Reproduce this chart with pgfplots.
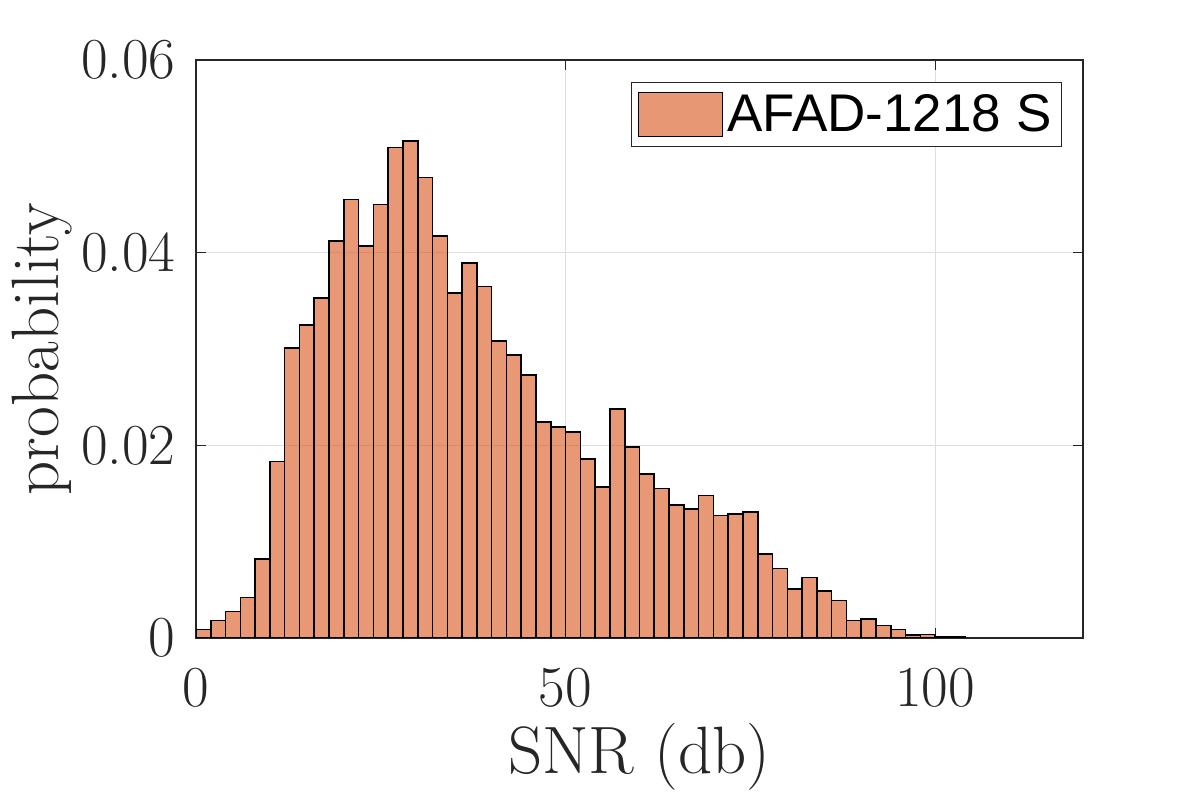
\documentclass[border=0pt]{standalone}
\usepackage{pgfplots}
\pgfplotsset{compat=1.18}
\usepackage{fontspec}
\newfontfamily\legfont{Liberation Sans}
\definecolor{txt}{HTML}{262626}
\definecolor{matred}{RGB}{217,83,25}

\begin{document}
\begin{tikzpicture}
\begin{axis}[
  scale only axis, width=443.5pt, height=289pt,
  at={(0,0)}, anchor=south west,
  xmin=0, xmax=120, ymin=0, ymax=0.06,
  xtick={0,50,100}, ytick={0,0.02,0.04,0.06},
  xticklabels={0,50,100},
  yticklabels={0,0.02,0.04,0.06},
  scaled y ticks=false,
  tick align=inside, major tick length=5pt,
  grid=major, major grid style={color=black!13, line width=0.5pt},
  axis line style={color=txt, line width=0.6pt},
  tick style={color=txt, line width=0.6pt},
  ticklabel style={font=\fontsize{29}{34}\selectfont, text=txt},
  yticklabel style={inner sep=0pt, xshift=-10pt},
  xticklabel style={inner sep=0pt, yshift=-15pt},
  label style={font=\fontsize{33.5}{38}\selectfont, text=txt},
  xlabel={SNR (db)}, ylabel={probability},
  xlabel style={at={(axis description cs:0.5,-0.206)}, anchor=center},
  ylabel style={at={(axis description cs:-0.1736,0.5)}, anchor=center},
  legend style={at={(rel axis cs:1,1)}, anchor=north east, xshift=-10.5pt, yshift=-11pt,
    draw=txt, line width=0.5pt, font=\legfont\fontsize{26.5}{30}\selectfont,
    inner xsep=3pt, inner ysep=4pt},
  legend image code/.code={\draw[#1] (0pt,-11pt) rectangle (42pt,11pt);},
]
\addplot[ybar interval, fill=matred, fill opacity=0.6, draw=black, line width=0.8pt]
coordinates {
(0,0.00087) (2,0.00183) (4,0.00277) (6,0.00419) (8,0.0082)
(10,0.01834) (12,0.0301) (14,0.0325) (16,0.0353) (18,0.0412)
(20,0.0455) (22,0.0407) (24,0.0450) (26,0.0509) (28,0.0516)
(30,0.0478) (32,0.0417) (34,0.0358) (36,0.0389) (38,0.0365)
(40,0.0308) (42,0.0294) (44,0.0273) (46,0.0224) (48,0.0219)
(50,0.0214) (52,0.0186) (54,0.0157) (56,0.0238) (58,0.0198)
(60,0.0170) (62,0.0155) (64,0.0138) (66,0.0134) (68,0.0148)
(70,0.0127) (72,0.0129) (74,0.0131) (76,0.0087) (78,0.0072)
(80,0.0051) (82,0.0063) (84,0.0049) (86,0.0039) (88,0.0018)
(90,0.0020) (92,0.0013) (94,0.00087) (96,0.0003) (98,0.00035)
(100,0.00014) (102,0.00014) (104,0.00014)
};
\addlegendentry{AFAD-1218 S}
\end{axis}
\pgfresetboundingbox
\path[use as bounding box] (-98pt,-80pt) rectangle (500pt,319pt);
\end{tikzpicture}
\end{document}
